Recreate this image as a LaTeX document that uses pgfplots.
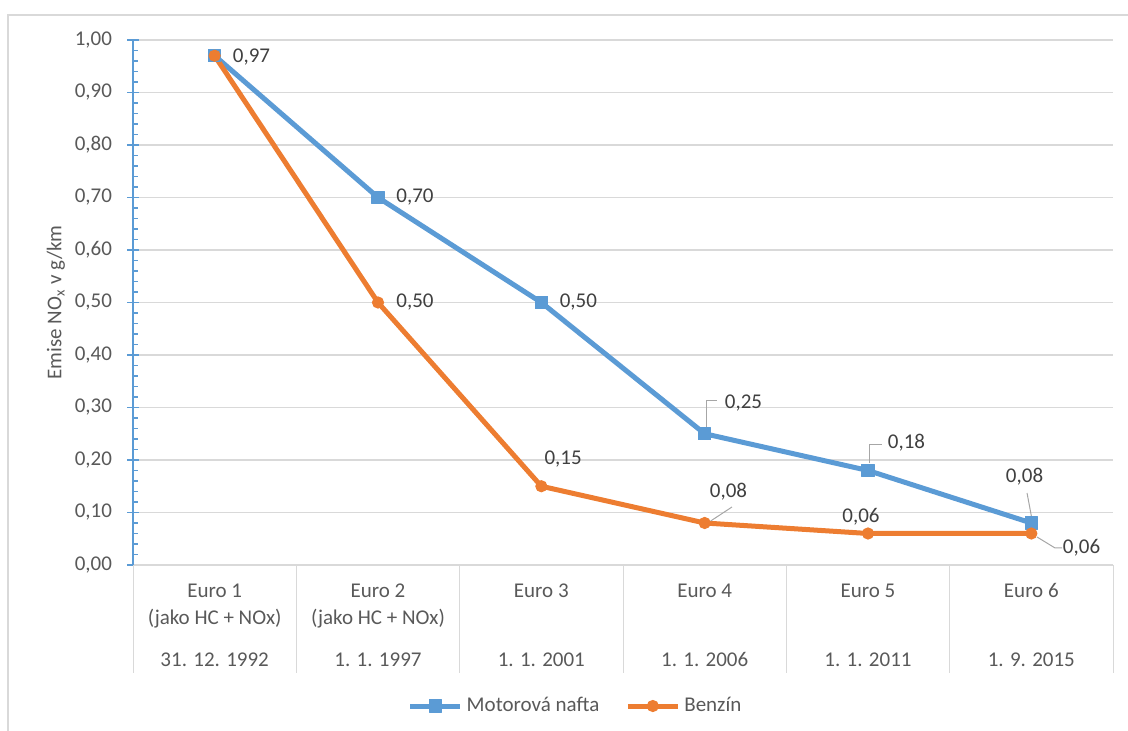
\documentclass[border=0pt]{standalone}
\usepackage{pgfplots}
\pgfplotsset{compat=1.18}
\usepackage{fontspec}
\setmainfont{Carlito}
\definecolor{cblue}{HTML}{5B9BD5}
\definecolor{corange}{HTML}{ED7D31}
\definecolor{gridc}{HTML}{D9D9D9}
\definecolor{txt}{HTML}{595959}
\definecolor{lbl}{HTML}{404040}
\definecolor{leader}{HTML}{A6A6A6}
\begin{document}
\begin{tikzpicture}[font=\fontsize{10.5pt}{12.6pt}\selectfont,
  lab/.style={text=lbl, inner sep=0pt, anchor=center},
  cat/.style={text=txt, inner sep=0pt, anchor=base},
  ldr/.style={draw=leader, line width=0.5pt}]
\useasboundingbox (0,0) rectangle (564pt,365.5pt);
\draw[gridc, line width=0.6pt] (4pt,0pt) -- (4pt,358pt) -- (564pt,358pt);
\begin{axis}[
  at={(66.5pt,83pt)}, anchor=south west,
  scale only axis, width=490pt, height=262.5pt,
  xmin=-0.5, xmax=5.5, ymin=0, ymax=1,
  axis x line*=bottom, axis y line*=left,
  x axis line style={draw=gridc, line width=0.6pt},
  y axis line style={draw=cblue, line width=0.75pt},
  xtick=\empty,
  ytick={0,0.1,0.2,0.3,0.4,0.5,0.6,0.7,0.8,0.9,1.0},
  minor y tick num=4,
  tick align=center,
  major tick length=6pt,
  minor tick length=2.5pt,
  major y tick style={draw=cblue, line width=0.75pt},
  minor y tick style={draw=cblue, line width=0.75pt, xshift=1.25pt},
  ymajorgrids, major grid style={draw=gridc, line width=0.6pt},
  yticklabel style={text=txt, xshift=-4pt},
  /pgf/number format/.cd, fixed, fixed zerofill, precision=2, use comma, assume math mode=true,
  /pgfplots/.cd,
  ylabel={Emise NO\textsubscript{x} v g/km},
  every axis y label/.style={at={(axis description cs:-0.0786,0.5)}, rotate=90, anchor=center, text=txt},
  clip=false,
  legend style={at={(0.4526,-0.2686)}, anchor=center, draw=none, fill=none, legend columns=2, text=txt,
    /tikz/every even column/.append style={column sep=11pt}},
  legend image code/.code={\draw[mark repeat=2,mark phase=2,#1] plot coordinates {(0pt,0pt)(12.5pt,0pt)(25pt,0pt)};},
]
\addplot[cblue, line width=2.5pt, line join=round, mark=square*, mark size=3.1pt, mark options={solid, line width=0.5pt}]
  coordinates {(0,0.97)(1,0.70)(2,0.50)(3,0.25)(4,0.18)(5,0.08)};
\addlegendentry{Motorová nafta}
\addplot[corange, line width=2.5pt, line join=round, mark=*, mark size=2.8pt, mark options={solid, line width=0.5pt}]
  coordinates {(0,0.97)(1,0.50)(2,0.15)(3,0.08)(4,0.06)(5,0.06)};
\addlegendentry{Benzín}

% leader lines
\draw[ldr] (axis cs:3,0.25) ++(1.15pt,3.5pt) -- ++(0pt,12.9pt) -- ++(5pt,0pt);
\draw[ldr] (axis cs:4,0.18) ++(0.5pt,3.5pt) -- ++(0pt,9.25pt) -- ++(6.5pt,0pt);
\draw[ldr] (axis cs:5,0.08) ++(0pt,3.5pt) -- ++(-2.15pt,11.5pt);
\draw[ldr] (axis cs:3,0.08) ++(3pt,1pt) -- ++(10.65pt,7pt);
\draw[ldr] (axis cs:5,0.06) ++(2.85pt,-1.75pt) -- ++(9pt,-5.5pt) -- ++(3.5pt,0pt);

% data labels
\node[lab, xshift=18.4pt, yshift=-0.5pt] at (axis cs:0,0.97) {0,97};
\node[lab, xshift=18.5pt] at (axis cs:1,0.70) {0,70};
\node[lab, xshift=18.5pt] at (axis cs:2,0.50) {0,50};
\node[lab, xshift=18.5pt] at (axis cs:1,0.50) {0,50};
\node[lab, xshift=10.9pt, yshift=13.6pt] at (axis cs:2,0.15) {0,15};
\node[lab, xshift=19.4pt, yshift=15.4pt] at (axis cs:3,0.25) {0,25};
\node[lab, xshift=19.25pt, yshift=13.75pt] at (axis cs:4,0.18) {0,18};
\node[lab, xshift=-3.4pt, yshift=23pt] at (axis cs:5,0.08) {0,08};
\node[lab, xshift=11.9pt, yshift=15.5pt] at (axis cs:3,0.08) {0,08};
\node[lab, xshift=-3.5pt, yshift=8.25pt] at (axis cs:4,0.06) {0,06};
\node[lab, xshift=25.1pt, yshift=-7.25pt] at (axis cs:5,0.06) {0,06};

% category separators
\draw[gridc, line width=0.5pt] (axis cs:-0.5,0) -- ++(0pt,-54pt);
\draw[gridc, line width=0.5pt] (axis cs:0.5,0) -- ++(0pt,-54pt);
\draw[gridc, line width=0.5pt] (axis cs:1.5,0) -- ++(0pt,-54pt);
\draw[gridc, line width=0.5pt] (axis cs:2.5,0) -- ++(0pt,-54pt);
\draw[gridc, line width=0.5pt] (axis cs:3.5,0) -- ++(0pt,-54pt);
\draw[gridc, line width=0.5pt] (axis cs:4.5,0) -- ++(0pt,-54pt);
\draw[gridc, line width=0.5pt] (axis cs:5.5,0) -- ++(0pt,-54pt);

% category labels
\node[cat, yshift=-16.4pt] at (axis cs:0,0) {Euro 1};
\node[cat, yshift=-16.4pt] at (axis cs:1,0) {Euro 2};
\node[cat, yshift=-16.4pt] at (axis cs:2,0) {Euro 3};
\node[cat, yshift=-16.4pt] at (axis cs:3,0) {Euro 4};
\node[cat, yshift=-16.4pt] at (axis cs:4,0) {Euro 5};
\node[cat, yshift=-16.4pt] at (axis cs:5,0) {Euro 6};
\node[cat, yshift=-29.7pt] at (axis cs:0,0) {(jako HC + NOx)};
\node[cat, yshift=-29.7pt] at (axis cs:1,0) {(jako HC + NOx)};
\node[cat, yshift=-50.8pt] at (axis cs:0,0) {31. 12. 1992};
\node[cat, yshift=-50.8pt] at (axis cs:1,0) {1. 1. 1997};
\node[cat, yshift=-50.8pt] at (axis cs:2,0) {1. 1. 2001};
\node[cat, yshift=-50.8pt] at (axis cs:3,0) {1. 1. 2006};
\node[cat, yshift=-50.8pt] at (axis cs:4,0) {1. 1. 2011};
\node[cat, yshift=-50.8pt] at (axis cs:5,0) {1. 9. 2015};
\end{axis}
\end{tikzpicture}
\end{document}
